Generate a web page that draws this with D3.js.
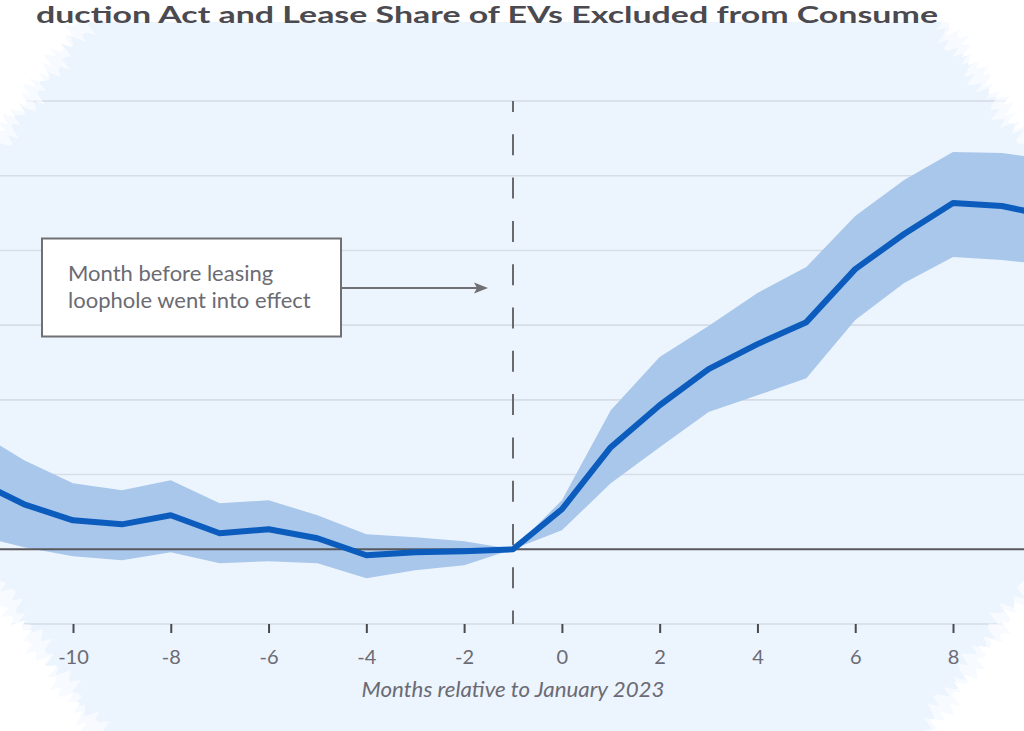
<!DOCTYPE html>
<html><head><meta charset="utf-8">
<script src="https://cdn.jsdelivr.net/npm/d3@7"></script>
<style>html,body{margin:0;padding:0;background:#fff;} svg{display:block;}</style>
</head><body><svg id="c" width="1024" height="731"></svg>
<script>
// ---- data ----
const months   = [-12,-11,-10,-9,-8,-7,-6,-5,-4,-3,-2,-1,0,1,2,3,4,5,6,7,8,9,10];
const estimate = [4.62,3.01,1.94,1.67,2.28,1.07,1.34,0.74,-0.40,-0.20,-0.13,0,2.68,6.83,9.64,12.06,13.73,15.20,18.75,21.10,23.17,22.97,22.30];
const upper    = [7.97,5.96,4.42,3.95,4.62,3.08,3.28,2.28,1.00,0.80,0.54,0,3.28,9.31,12.86,14.94,17.15,18.89,22.30,24.72,26.59,26.52,26.06];
const lower    = [0.94,0.13,-0.47,-0.74,-0.20,-0.94,-0.80,-0.94,-1.94,-1.41,-1.07,0,1.27,4.42,6.83,9.18,10.31,11.45,15.34,17.82,19.56,19.36,19.02];
const xTicks   = [-10,-8,-6,-4,-2,0,2,4,6,8];
const yGrid    = [-5,0,5,10,15,20,25,30];
const eventMonth = -1;
const titleText = "duction Act and Lease Share of EVs Excluded from Consume";
const xTitle    = "Months relative to January 2023";
const noteLines = ["Month before leasing","loophole went into effect"];

const W = 1024, H = 731;
const FONT = "Lato, 'Source Sans Pro', 'Noto Sans', sans-serif";
const svg = d3.select("#c");

const x = d3.scaleLinear().domain([-1, 8]).range([513, 953]);
const y = d3.scaleLinear().domain([-5, 30]).range([624, 101]);

// ---- torn-paper background (decoration) ----
function jag(p0, p1, n, seed, amp) {
  const dx = p1[0]-p0[0], dy = p1[1]-p0[1], L = Math.hypot(dx,dy);
  const nx = -dy/L, ny = dx/L;
  const pts = [];
  for (let i = 0; i <= n; i++) {
    const t = i/n;
    const a = (i === 0 || i === n) ? 0 :
      amp * (0.6*Math.sin(i*2.31+seed) + 0.4*Math.sin(i*5.73+seed*1.7));
    pts.push([p0[0]+dx*t + nx*a, p0[1]+dy*t + ny*a]);
  }
  return pts;
}
function outline(k, seed, amp) {
  let o = [];
  o = o.concat(jag([0,135+k],[80+k*0.8,22],40,seed,amp));
  o.push([945-k*0.8,22]);
  o = o.concat(jag([945-k*0.8,22],[1024,135+k],40,seed+1,amp));
  o.push([1024,595-k]);
  o = o.concat(jag([1024,595-k],[930-k*0.8,731],40,seed+2,amp));
  o.push([92+k*0.8,731]);
  o = o.concat(jag([92+k*0.8,731],[0,595-k],40,seed+3,amp));
  return "M" + o.map(p => p[0].toFixed(1)+","+p[1].toFixed(1)).join("L") + "Z";
}
const outerPath = outline(-4, 0.4, 11);
const innerPath = outline(14, 2.1, 12);

svg.append("rect").attr("width",W).attr("height",H).attr("fill","#ffffff");
svg.append("path").attr("d", outerPath).attr("fill","#ecf4fe");

// ---- gridlines ----
svg.append("g").selectAll("line").data(yGrid.filter(v => v !== 0)).join("line")
  .attr("x1",0).attr("x2",W).attr("y1",d=>y(d)).attr("y2",d=>y(d))
  .attr("stroke","#d5dde7").attr("stroke-width",1.6);

// ---- confidence band and line ----
const rows = months.map((m,i) => ({m, est: estimate[i], lo: lower[i], hi: upper[i]}));
svg.append("path").datum(rows)
  .attr("d", d3.area().x(d=>x(d.m)).y0(d=>y(d.lo)).y1(d=>y(d.hi)))
  .attr("fill","#a8c7eb");

svg.append("line").attr("x1",0).attr("x2",W).attr("y1",y(0)).attr("y2",y(0))
  .attr("stroke","#58585c").attr("stroke-width",2);

svg.append("path").datum(rows)
  .attr("d", d3.line().x(d=>x(d.m)).y(d=>y(d.est)))
  .attr("fill","none").attr("stroke","#0b5cbd").attr("stroke-width",6)
  .attr("stroke-linejoin","round");

svg.append("line").attr("x1",x(eventMonth)).attr("x2",x(eventMonth))
  .attr("y1",y(30)).attr("y2",y(-5))
  .attr("stroke","#6a6a6e").attr("stroke-width",2)
  .attr("stroke-dasharray","21 22.3").attr("stroke-dashoffset",10);

// ---- x axis ----
const xAxis = svg.append("g").attr("transform",`translate(0,${y(-5)})`)
  .call(d3.axisBottom(x).tickValues(xTicks).tickSize(9).tickFormat(d => String(d)));
xAxis.select(".domain").remove();
xAxis.selectAll(".tick line").attr("stroke","#4a4a4e").attr("stroke-width",2);
xAxis.selectAll(".tick text").attr("y",26).attr("fill","#6b6b73")
  .style("font-family",FONT).style("font-size","20px");

svg.append("text").attr("x",513).attr("y",697).attr("text-anchor","middle")
  .attr("textLength",303).attr("lengthAdjust","spacingAndGlyphs")
  .attr("fill","#6b6b73").style("font-family",FONT).style("font-size","21px")
  .style("font-style","italic").text(xTitle);

// ---- annotation ----
svg.append("rect").attr("x",42).attr("y",238.5).attr("width",299).attr("height",98)
  .attr("fill","#ffffff").attr("stroke","#707074").attr("stroke-width",2);
svg.append("g").selectAll("text").data(noteLines).join("text")
  .attr("x",68).attr("y",(d,i)=>281+i*27)
  .attr("fill","#6b6b73").style("font-family",FONT).style("font-size","22px")
  .text(d=>d);
svg.append("line").attr("x1",341).attr("x2",478).attr("y1",288).attr("y2",288)
  .attr("stroke","#707074").attr("stroke-width",2);
svg.append("path").attr("d","M488,288L474,282.5L477,288L474,293.5Z").attr("fill","#707074");

// ---- torn-paper overlay ----
svg.append("path")
  .attr("d", `M0,0H${W}V${H}H0Z` + innerPath)
  .attr("fill","#ffffff").attr("fill-rule","evenodd").attr("opacity",0.6);
svg.append("path")
  .attr("d", `M0,0H${W}V${H}H0Z` + outerPath)
  .attr("fill","#ffffff").attr("fill-rule","evenodd");

// ---- title (visible portion of the cropped title) ----
svg.append("text")
  .attr("x",36).attr("y",23).attr("textLength",902).attr("lengthAdjust","spacingAndGlyphs")
  .attr("fill","#4a4a50").style("font-family",FONT).style("font-size","23px")
  .style("font-weight","bold").text(titleText);
</script>
</body></html>
